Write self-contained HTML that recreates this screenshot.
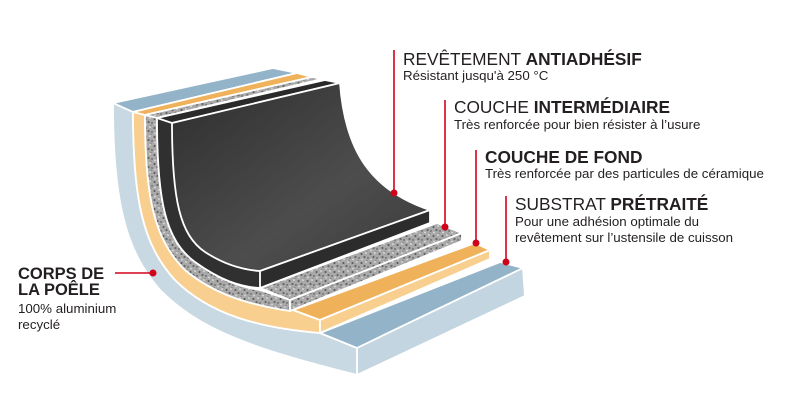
<!DOCTYPE html>
<html><head><meta charset="utf-8">
<style>
html,body{margin:0;padding:0;background:#fff;}
svg{display:block;}
text{font-family:"Liberation Sans",sans-serif;fill:#231f20;}
</style></head>
<body>
<svg width="800" height="400" viewBox="0 0 800 400" xmlns="http://www.w3.org/2000/svg">
<defs>
<pattern id="gr" width="9" height="9" patternUnits="userSpaceOnUse">
<rect width="9" height="9" fill="#a9a9a9"/>
<circle cx="1.5" cy="2" r="1" fill="#555"/>
<circle cx="6" cy="1" r="0.8" fill="#eee"/>
<circle cx="4.5" cy="5" r="1.1" fill="#666"/>
<circle cx="8" cy="6" r="0.7" fill="#444"/>
<circle cx="2" cy="7.5" r="0.9" fill="#ddd"/>
<circle cx="7" cy="8.3" r="0.6" fill="#777"/>
</pattern>
<linearGradient id="bk" x1="0" y1="0" x2="1" y2="1">
<stop offset="0" stop-color="#2e2e2e"/><stop offset="0.6" stop-color="#4d4d4d"/><stop offset="1" stop-color="#3a3a3a"/>
</linearGradient>
</defs>
<g stroke="#fff" stroke-width="1.8" stroke-linejoin="round">
<path d="M113,103 L273,68 L297,73 L133,112 C133,200 143,245 175,280 C210,315 260,328 320,333 L357,348 L357,375 C250,348 200,330 160,290 C125,250 113,200 113,103 Z" fill="#c8d9e4"/>
<path d="M113,103 L273,68 L297,73 L133,112 Z" fill="#93b4c8"/>
<path d="M320,333 L500,262 L523,268 L357,348 Z" fill="#93b4c8"/>
<path d="M357,348 L523,268 L525,296 L357,375 Z" fill="#c3d5e1"/>
<path d="M133,112 L297,73 L303,77 L145,115 C145,200 155,240 185,270 C215,295 250,305 290,310 L293,310 L320,320 L320,333 C260,328 210,315 175,280 C143,245 133,200 133,112 Z" fill="#f8cf8f"/>
<path d="M133,112 L297,73 L312,77 L145,115 Z" fill="#efb25a"/>
<path d="M293,310 L475,243 L490,250 L320,320 Z" fill="#efb25a"/>
<path d="M320,320 L490,250 L490,259 L320,333 Z" fill="#f8cf8f"/>
<path d="M145,115 L312,77 L322,79 L157,118 C157,200 165,240 195,262 C220,280 240,287 260,290 L290,300 L290,311 C250,305 215,295 185,270 C155,240 145,200 145,115 Z" fill="url(#gr)"/>
<path d="M145,115 L312,77 L322,79 L157,118 Z" fill="url(#gr)"/>
<path d="M260,288 L437,223 L462,233 L290,300 Z" fill="url(#gr)"/>
<path d="M290,300 L462,233 L462,241 L290,311 Z" fill="url(#gr)"/>
<path d="M157,118 L325,80 L340,83 C345,150 370,190 430,210 L430,223 L260,288 C240,287 220,280 195,262 C165,240 157,200 157,118 Z" fill="#303030"/>
<path d="M157,118 L325,80 L340,83 L172,123 Z" fill="#2a2a2a"/>
<path d="M172,123 L340,83 C345,150 370,190 430,210 L260,271 C245,270 225,265 205,252 C180,235 172,200 172,123 Z" fill="url(#bk)"/>
<path d="M260,271 L430,210 L430,223 L260,288 Z" fill="#2c2c2c"/>
</g>
<g stroke="#d0021b" stroke-width="1.6" fill="none">
<line x1="394" y1="50" x2="394" y2="193"/>
<line x1="445" y1="100" x2="445" y2="227"/>
<line x1="476" y1="150" x2="476" y2="243"/>
<line x1="506" y1="196" x2="506" y2="262"/>
<line x1="115" y1="273" x2="153" y2="273"/>
</g>
<g fill="#d0021b">
<circle cx="394" cy="193" r="3.5"/><circle cx="445" cy="227" r="3.5"/>
<circle cx="476" cy="243" r="3.5"/><circle cx="506" cy="262" r="3.5"/>
<circle cx="153" cy="273" r="3.5"/>
</g>
<text x="403" y="65" font-size="17.3">REVÊTEMENT <tspan font-weight="bold">ANTIADHÉSIF</tspan></text>
<text x="403" y="80" font-size="13.3">Résistant jusqu'à 250 °C</text>
<text x="454" y="113" font-size="17.3">COUCHE <tspan font-weight="bold">INTERMÉDIAIRE</tspan></text>
<text x="454" y="129" font-size="13.3">Très renforcée pour bien résister à l’usure</text>
<text x="485" y="163" font-size="17.3" font-weight="bold">COUCHE DE FOND</text>
<text x="485" y="178" font-size="13.3">Très renforcée par des particules de céramique</text>
<text x="515" y="210" font-size="17.3">SUBSTRAT <tspan font-weight="bold">PRÉTRAITÉ</tspan></text>
<text x="515" y="226" font-size="13.3">Pour une adhésion optimale du</text>
<text x="515" y="242" font-size="13.3">revêtement sur l’ustensile de cuisson</text>
<text x="18" y="279" font-size="16.5" font-weight="bold">CORPS DE</text>
<text x="18" y="295" font-size="16.5" font-weight="bold">LA POÊLE</text>
<text x="18" y="313" font-size="13.3">100% aluminium</text>
<text x="18" y="329" font-size="13.3">recyclé</text>
</svg>
</body></html>
